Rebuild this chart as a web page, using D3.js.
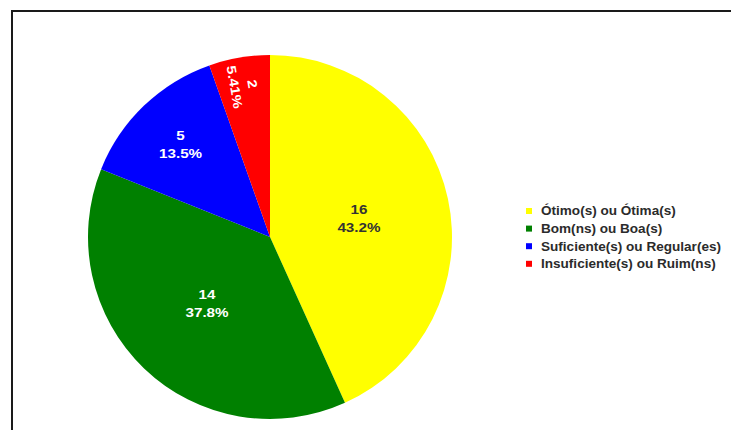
<!DOCTYPE html>
<html>
<head>
<meta charset="utf-8">
<script src="https://cdn.jsdelivr.net/npm/d3@7"></script>
<style>
  html, body { margin: 0; padding: 0; background: #fff; }
  svg { display: block; }
  text { font-family: "Liberation Sans", Arial, sans-serif; font-weight: bold; }
</style>
</head>
<body>
<svg id="chart" width="731" height="430"></svg>
<script>
// Rating categories and response counts
const categories = ["Ótimo(s) ou Ótima(s)", "Bom(ns) ou Boa(s)", "Suficiente(s) ou Regular(es)", "Insuficiente(s) ou Ruim(ns)"];
const counts = [16, 14, 5, 2];
const percentLabels = ["43.2%", "37.8%", "13.5%", "5.41%"];
const sliceColors = ["#ffff00", "#008000", "#0000ff", "#ff0000"];
const labelColors = ["#333333", "#ffffff", "#ffffff", "#ffffff"];

const svg = d3.select("#chart");
const W = 731, H = 430;

// Outer frame (runs off the right and bottom edges)
svg.append("rect")
  .attr("x", 12).attr("y", 11)
  .attr("width", W).attr("height", H)
  .attr("fill", "none")
  .attr("stroke", "#1a1a1a")
  .attr("stroke-width", 2);

const cx = 270, cy = 237, R = 182;

const data = categories.map((c, i) => ({ name: c, value: counts[i], pct: percentLabels[i], color: sliceColors[i], lc: labelColors[i] }));

const pie = d3.pie().value(d => d.value).sort(null);
const arcs = pie(data);
const arc = d3.arc().innerRadius(0).outerRadius(R);

const g = svg.append("g").attr("transform", `translate(${cx},${cy})`);

g.selectAll("path.slice")
  .data(arcs)
  .join("path")
  .attr("class", "slice")
  .attr("d", arc)
  .attr("fill", d => d.data.color);

// Labels: narrow slices push labels outward; the thinnest one is turned radially
const textScaleX = 1.17;
arcs.forEach(a => {
  const span = a.endAngle - a.startAngle;
  const frac = span > 1.2 ? 0.5 : (span > 0.6 ? 0.71 : 0.845);
  const mid = (a.startAngle + a.endAngle) / 2;
  const lr = R * frac;
  const x = Math.sin(mid) * lr;
  const y = -Math.cos(mid) * lr;
  const rotate = span < 0.4 ? (mid * 180 / Math.PI + 90) : 0;
  const lg = g.append("g")
    .attr("transform", `translate(${x},${y}) rotate(${rotate}) scale(${textScaleX},1)`);
  const t = lg.append("text")
    .attr("text-anchor", "middle")
    .attr("font-size", 13)
    .attr("fill", a.data.lc);
  t.append("tspan").attr("x", 0).attr("y", -4).text(a.data.value);
  t.append("tspan").attr("x", 0).attr("y", 14).text(a.data.pct);
});

// Legend
const legend = svg.append("g").attr("transform", "translate(526,211)");
const rowH = 17.6;
const rows = legend.selectAll("g.row")
  .data(data)
  .join("g")
  .attr("class", "row")
  .attr("transform", (d, i) => `translate(0,${i * rowH})`);
rows.append("rect")
  .attr("x", 0).attr("y", -3)
  .attr("width", 6).attr("height", 6)
  .attr("fill", d => d.color);
rows.append("text")
  .attr("transform", "translate(15,0) scale(1.13,1)")
  .attr("dy", "0.36em")
  .attr("font-size", 12)
  .attr("fill", "#2b2b2b")
  .text(d => d.name);
</script>
</body>
</html>
